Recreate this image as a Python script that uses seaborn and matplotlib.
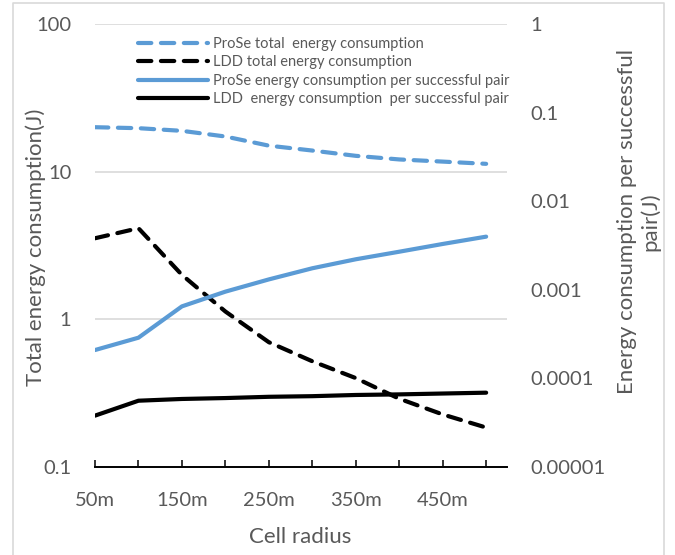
import matplotlib
matplotlib.use("Agg")
import matplotlib.pyplot as plt
import seaborn as sns
import numpy as np
import pandas as pd
from matplotlib.ticker import FixedLocator, FixedFormatter, NullLocator
from matplotlib.lines import Line2D

# ---- data ----
radius_labels = ["50m", "100m", "150m", "200m", "250m", "300m", "350m", "400m", "450m", "500m"]
prose_total = [20.0, 19.7, 18.9, 17.3, 15.0, 13.9, 12.8, 12.1, 11.7, 11.3]
ldd_total = [3.54, 4.14, 2.0, 1.13, 0.70, 0.52, 0.40, 0.29, 0.227, 0.185]
prose_pair = [0.000209, 0.000288, 0.00065, 0.000953, 0.00131, 0.00175, 0.00221, 0.00269, 0.00329, 0.00398]
ldd_pair = [3.8e-5, 5.6e-5, 5.86e-5, 6.0e-5, 6.2e-5, 6.3e-5, 6.5e-5, 6.6e-5, 6.75e-5, 6.9e-5]

series_names = [
    "ProSe total  energy consumption",
    "LDD total energy consumption",
    "ProSe energy consumption per successful pair",
    "LDD  energy consumption  per successful pair",
]
left_ticks = [0.1, 1, 10, 100]
left_tick_labels = ["0.1", "1", "10", "100"]
right_ticks = [1e-5, 1e-4, 1e-3, 1e-2, 1e-1, 1]
right_tick_labels = ["0.00001", "0.0001", "0.001", "0.01", "0.1", "1"]
shown_x_labels = ["50m", "150m", "250m", "350m", "450m"]

BLUE = "#5B9BD5"
BLACK = "#000000"
GRAY_TXT = "#595959"
GRID = "#D9D9D9"

sns.set_theme(style="white")
plt.rcParams["font.family"] = ["Lato", "DejaVu Sans"]

W, H = 675, 555
fig = plt.figure(figsize=(W / 100, H / 100), dpi=100)
x0, x1, y0, y1 = 95, 507, 24, 467
ax = fig.add_axes([x0 / W, 1 - y1 / H, (x1 - x0) / W, (y1 - y0) / H])
ax2 = ax.twinx()

df = pd.DataFrame({
    "idx": np.arange(len(radius_labels)),
    "prose_total": prose_total,
    "ldd_total": ldd_total,
    "prose_pair": prose_pair,
    "ldd_pair": ldd_pair,
})

LW = 3.0
DASH = (3.2, 2.3)

sns.lineplot(data=df, x="idx", y="prose_total", ax=ax, color=BLUE, lw=LW)
ax.lines[-1].set_dashes(DASH)
ax.lines[-1].set_dash_capstyle("round")
sns.lineplot(data=df, x="idx", y="ldd_total", ax=ax, color=BLACK, lw=LW)
ax.lines[-1].set_dashes(DASH)
ax.lines[-1].set_dash_capstyle("round")

sns.lineplot(data=df, x="idx", y="prose_pair", ax=ax2, color=BLUE, lw=LW)
ax2.lines[-1].set_solid_capstyle("round")
sns.lineplot(data=df, x="idx", y="ldd_pair", ax=ax2, color=BLACK, lw=LW)
ax2.lines[-1].set_solid_capstyle("round")

ax.set_yscale("log")
ax2.set_yscale("log")
ax.set_ylim(0.1, 100)
ax2.set_ylim(1e-5, 1)
ax.set_xlim(0, 9.48)

# left axis
ax.yaxis.set_major_locator(FixedLocator(left_ticks))
ax.yaxis.set_major_formatter(FixedFormatter(left_tick_labels))
ax.yaxis.set_minor_locator(NullLocator())
ax.tick_params(axis="y", which="both", length=0, pad=17, labelsize=14.5, labelcolor=GRAY_TXT)
ax.grid(axis="y", which="major", color=GRID, lw=1.2)
ax.set_axisbelow(True)

# right axis
ax2.yaxis.set_major_locator(FixedLocator(right_ticks))
ax2.yaxis.set_major_formatter(FixedFormatter(right_tick_labels))
ax2.yaxis.set_minor_locator(NullLocator())
ax2.tick_params(axis="y", which="both", length=0, pad=17, labelsize=14.5, labelcolor=GRAY_TXT)
ax2.grid(False)

# x axis
ax.set_xticks(np.arange(len(radius_labels)))
ax.set_xticklabels([l if l in shown_x_labels else "" for l in radius_labels])
ax.tick_params(axis="x", direction="in", length=5, width=1.1, color=BLACK,
               pad=18, labelsize=14.5, labelcolor=GRAY_TXT, bottom=True)

for a in (ax, ax2):
    for s in ("left", "right", "top", "bottom"):
        a.spines[s].set_visible(False)
    a.set_xlabel("")
    a.set_ylabel("")
ax.spines["bottom"].set_visible(True)
ax.spines["bottom"].set_color(BLACK)
ax.spines["bottom"].set_linewidth(1.4)

# axis titles
fig.text(300 / W, 1 - 537 / H, "Cell radius", ha="center", va="center",
         fontsize=16, color=GRAY_TXT)
fig.text(36 / W, 1 - 247 / H, "Total energy consumption(J)", ha="center", va="center",
         rotation=90, fontsize=16, color=GRAY_TXT)
fig.text(639 / W, 1 - 222 / H, "Energy consumption per successful\npair(J)", ha="center",
         va="center", rotation=90, fontsize=16, color=GRAY_TXT, linespacing=1.15,
         multialignment="center")

# legend
handles = [
    Line2D([], [], color=BLUE, lw=LW, dashes=DASH, dash_capstyle="round"),
    Line2D([], [], color=BLACK, lw=LW, dashes=DASH, dash_capstyle="round"),
    Line2D([], [], color=BLUE, lw=LW, solid_capstyle="round"),
    Line2D([], [], color=BLACK, lw=LW, solid_capstyle="round"),
]
leg = fig.legend(handles, series_names, loc="upper left",
                 bbox_to_anchor=(138 / W, 1 - 37 / H), bbox_transform=fig.transFigure,
                 frameon=False, fontsize=10.5, handlelength=4.8, handletextpad=0.35,
                 labelspacing=0.3, borderpad=0, borderaxespad=0)
for t in leg.get_texts():
    t.set_color(GRAY_TXT)

# chart-area border (left, top, right)
bx0, bx1, by0 = 13 / W, 664 / W, 1 - 3 / H
fig.add_artist(Line2D([bx0, bx0, bx1, bx1], [0, by0, by0, 0], transform=fig.transFigure,
                      color="#D9D9D9", lw=1.2))

fig.savefig("out.png", dpi=100)
